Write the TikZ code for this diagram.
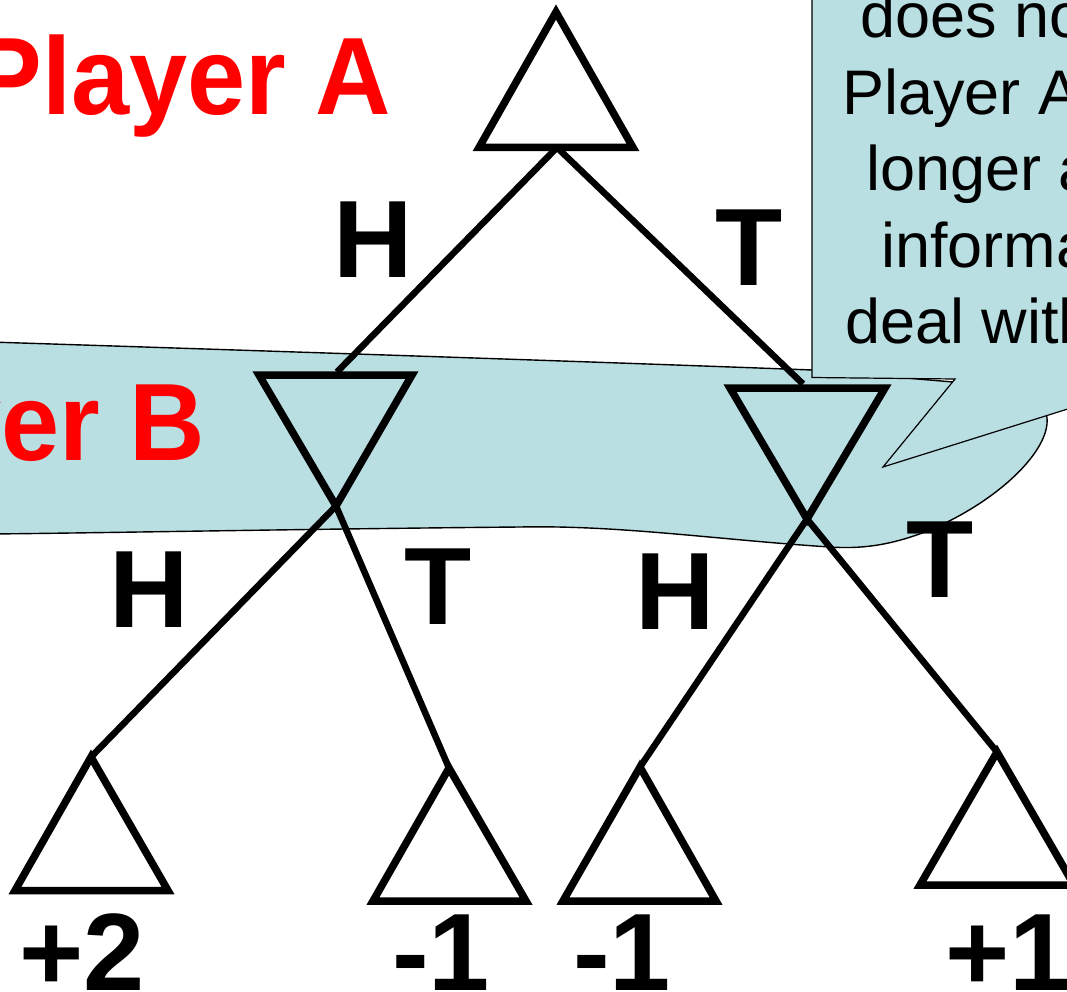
\documentclass[tikz,border=0pt]{standalone}
\usepackage{fontspec}
\setmainfont{Liberation Sans}
\definecolor{blobblue}{RGB}{185,223,227}
\begin{document}
\begin{tikzpicture}[x=1pt,y=-1pt,line join=miter,
  tri/.style={line width=7.5pt,draw=black},
  edge/.style={line width=6.5pt,draw=black},
  lbl/.style={font=\fontsize{110}{110}\selectfont\bfseries,inner sep=0pt,anchor=base},
  redlbl/.style={lbl,text=red,anchor=base east},
  note/.style={font=\fontsize{63}{63}\selectfont,inner sep=0pt,anchor=base west},
  outline/.style={fill=blobblue,draw=black,line width=1.4pt}]
\useasboundingbox (0,0) rectangle (1067,992);
\clip (0,0) rectangle (1067,992);
\fill[white] (0,0) rectangle (1067,992);
% information set blob
\path[outline] (-10,342) .. controls (300,352) and (600,362) .. (812,370) -- (1000,386)
  .. controls (1030,392) and (1045,400) .. (1047,418)
  .. controls (1050,450) and (1000,500) .. (930,530)
  .. controls (890,546) and (860,549) .. (830,547)
  .. controls (720,540) and (620,525) .. (520,527)
  .. controls (300,529) and (100,533) .. (-10,534) -- cycle;
% callout
\path[outline,line width=1.2pt] (812,-10) -- (812,377.5) -- (955,379) -- (883,467) -- (1090,402) -- (1090,-10) -- cycle;
\node[note] (n1) at (860,38) {does not};
\node[note] (n2) at (842,115) {Player A};
\node[note] (n3) at (866,191) {longer a};
\node[note] (n4) at (881,267) {informat};
\node[note] (n5) at (845,343) {deal with};
% coordinates
\coordinate (Atop) at (556,12);
\coordinate (Abl) at (479,147.5);
\coordinate (Abr) at (633,147.5);
\coordinate (Abase) at (557,147.5);
\coordinate (Bltl) at (259,375);
\coordinate (Bltr) at (412,375);
\coordinate (Blap) at (336,506);
\coordinate (Blin) at (337,372);
\coordinate (Brtl) at (730,388);
\coordinate (Brtr) at (885,388);
\coordinate (Brap) at (807,519);
\coordinate (Brin) at (803,384);
\coordinate (L1ap) at (91,757);
\coordinate (L1l) at (15,890.5);
\coordinate (L1r) at (168,890.5);
\coordinate (L2ap) at (449,768);
\coordinate (L2l) at (373,901);
\coordinate (L2r) at (526,901);
\coordinate (L3ap) at (640,767);
\coordinate (L3l) at (563,901);
\coordinate (L3r) at (716,901);
\coordinate (L4ap) at (997,752);
\coordinate (L4l) at (920,885);
\coordinate (L4r) at (1074,885);
% triangles
\path[tri,fill=white] (Atop) -- (Abr) -- (Abl) -- cycle;
\path[tri] (Bltl) -- (Bltr) -- (Blap) -- cycle;
\path[tri] (Brtl) -- (Brtr) -- (Brap) -- cycle;
\path[tri,fill=white] (L1ap) -- (L1r) -- (L1l) -- cycle;
\path[tri,fill=white] (L2ap) -- (L2r) -- (L2l) -- cycle;
\path[tri,fill=white] (L3ap) -- (L3r) -- (L3l) -- cycle;
\path[tri,fill=white] (L4ap) -- (L4r) -- (L4l) -- cycle;
% connectors
\draw[edge] (Abase) -- (Blin);
\draw[edge] (Abase) -- (Brin);
\draw[edge] (Blap) -- (L1ap);
\draw[edge] (Blap) -- (L2ap);
\draw[edge] (Brap) -- (L3ap);
\draw[edge] (Brap) -- (L4ap);
% labels
\node[redlbl] (pa) at (391,115) {\scalebox{0.95}[1]{Player A}};
\node[redlbl] (pb) at (205,460) {\scalebox{0.95}[1]{Player B}};
\node[lbl] (h1) at (373.5,277) {H};
\node[lbl] (t1) at (749,285) {T};
\node[lbl] (h2) at (149,627) {H};
\node[lbl] (t2) at (438,624) {T};
\node[lbl] (h3) at (675,629) {H};
\node[lbl] (t3) at (940,597) {T};
\node[lbl] (v1) at (82,990) {+2};
\node[lbl] (v2) at (441,990) {-1};
\node[lbl] (v3) at (622,990) {-1};
\node[lbl] (v4) at (1008,990) {+1};
\end{tikzpicture}
\end{document}
